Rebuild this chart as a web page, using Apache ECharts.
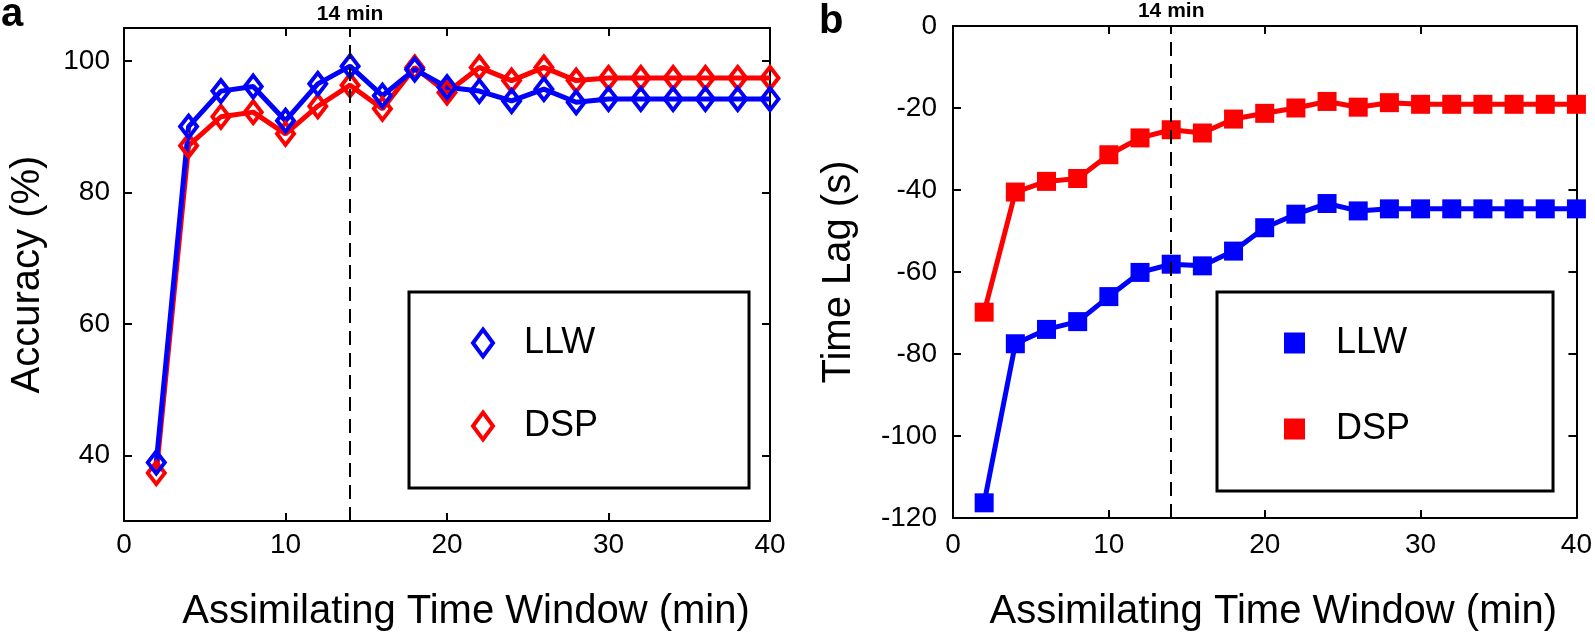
<!DOCTYPE html>
<html>
<head>
<meta charset="utf-8">
<script src="https://cdn.jsdelivr.net/npm/echarts@6/dist/echarts.min.js"></script>
<style>
  html, body { margin: 0; padding: 0; background: #fff; }
  #chart { width: 1595px; height: 637px; }
</style>
</head>
<body>
<div id="chart"></div>
<script>
// assimilating time window (min)
const windows = [2, 4, 6, 8, 10, 12, 14, 16, 18, 20, 22, 24, 26, 28, 30, 32, 34, 36, 38, 40];
// panel a: accuracy (%)
const accuracyLLW = [38.9, 90.0, 95.4, 96.1, 90.9, 96.5, 99.2, 94.7, 98.7, 96.0, 95.4, 93.9, 95.7, 93.7, 94.2, 94.2, 94.2, 94.2, 94.2, 94.2];
const accuracyDSP = [37.3, 87.1, 91.5, 92.2, 88.9, 93.1, 96.3, 92.7, 99.0, 95.2, 99.0, 97.0, 99.0, 97.0, 97.4, 97.4, 97.4, 97.4, 97.4, 97.4];
// panel b: time lag (s)
const lagLLW = [-116.3, -77.5, -74.0, -72.1, -66.0, -60.1, -58.1, -58.5, -54.9, -49.2, -45.9, -43.3, -45.1, -44.6, -44.6, -44.6, -44.6, -44.6, -44.6, -44.6];
const lagDSP = [-69.8, -40.5, -37.9, -37.2, -31.4, -27.3, -25.3, -26.1, -22.7, -21.3, -20.0, -18.4, -19.8, -18.7, -19.1, -19.1, -19.1, -19.1, -19.1, -19.1];

const xTicks = [0, 10, 20, 30, 40];
const accuracyTicks = [40, 60, 80, 100];
const lagTicks = [-120, -100, -80, -60, -40, -20, 0];
const markWindow = 14;
const markLabel = '14 min';

const BLUE = '#0000ff';
const RED = '#ff0000';
const FONT = '"Liberation Sans", Arial, Helvetica, sans-serif';

const chart = echarts.init(document.getElementById('chart'), null, { renderer: 'canvas' });

const pairs = (values) => windows.map((x, i) => [x, values[i]]);

const frameLine = { show: true, onZero: false, lineStyle: { color: '#000', width: 2 } };
const frameTick = { show: true, inside: true, length: 8, lineStyle: { color: '#000', width: 2 } };

const xAxisFor = (gridIndex, position, extra) => ({
  gridIndex,
  type: 'value',
  position,
  min: xTicks[0],
  max: xTicks[xTicks.length - 1],
  interval: xTicks[1] - xTicks[0],
  axisLine: frameLine,
  axisTick: frameTick,
  splitLine: { show: false },
  axisLabel: { show: false },
  ...extra
});

const yAxisFor = (gridIndex, position, min, max, ticks, extra) => ({
  gridIndex,
  type: 'value',
  position,
  min,
  max,
  axisLine: frameLine,
  axisTick: { ...frameTick, customValues: ticks },
  splitLine: { show: false },
  axisLabel: { show: false, customValues: ticks },
  ...extra
});

const tickLabel = (margin) => ({ show: true, color: '#000', fontSize: 28, fontFamily: FONT, margin });
const titleStyle = (padding) => ({ color: '#000', fontSize: 40, fontFamily: FONT, padding });

const marker = (label, distance) => ({
  silent: true,
  symbol: 'none',
  animation: false,
  lineStyle: { color: '#000', width: 2, type: [14, 8] },
  label: {
    show: true,
    position: 'end',
    distance,
    formatter: label,
    color: '#000',
    fontSize: 21,
    fontWeight: 'bold',
    fontFamily: FONT
  },
  data: [{ xAxis: markWindow }]
});

const diamondSeries = (name, values, color, markLine) => ({
  name,
  type: 'line',
  xAxisIndex: 0,
  yAxisIndex: 0,
  data: pairs(values),
  clip: false,
  symbol: 'diamond',
  symbolSize: [17, 22],
  lineStyle: { color, width: 5 },
  itemStyle: { color: 'rgba(0,0,0,0)', borderColor: color, borderWidth: 4 },
  markLine
});

const squareSeries = (name, values, color, markLine) => ({
  name,
  type: 'line',
  xAxisIndex: 2,
  yAxisIndex: 2,
  data: pairs(values),
  clip: false,
  symbol: 'rect',
  symbolSize: 19,
  lineStyle: { color, width: 5 },
  itemStyle: { color },
  markLine
});

const legendText = { color: '#000', fontSize: 36, lineHeight: 36, fontFamily: FONT, padding: [0, 0, 0, 26] };

chart.setOption({
  animation: false,
  backgroundColor: '#fff',
  textStyle: { fontFamily: FONT },
  grid: [
    { left: 124, top: 28, right: 825, bottom: 114 },
    { left: 953, top: 26, right: 17, bottom: 117 }
  ],
  xAxis: [
    xAxisFor(0, 'bottom', {
      axisLabel: tickLabel(10),
      name: 'Assimilating Time Window (min)',
      nameLocation: 'middle',
      nameGap: 71,
      nameTextStyle: titleStyle([0, 0, 0, 38])
    }),
    xAxisFor(0, 'top'),
    xAxisFor(1, 'bottom', {
      axisLabel: tickLabel(13),
      name: 'Assimilating Time Window (min)',
      nameLocation: 'middle',
      nameGap: 74,
      nameTextStyle: titleStyle([0, 0, 0, 17])
    }),
    xAxisFor(1, 'top')
  ],
  yAxis: [
    yAxisFor(0, 'left', 30, 105, accuracyTicks, {
      axisLabel: { ...tickLabel(14), customValues: accuracyTicks },
      name: 'Accuracy (%)',
      nameLocation: 'middle',
      nameGap: 76,
      nameTextStyle: titleStyle(0)
    }),
    yAxisFor(0, 'right', 30, 105, accuracyTicks),
    yAxisFor(1, 'left', lagTicks[0], lagTicks[lagTicks.length - 1], lagTicks, {
      axisLabel: { ...tickLabel(16), customValues: lagTicks },
      name: 'Time Lag (s)',
      nameLocation: 'middle',
      nameGap: 94,
      nameTextStyle: titleStyle(0)
    }),
    yAxisFor(1, 'right', lagTicks[0], lagTicks[lagTicks.length - 1], lagTicks)
  ],
  legend: [
    {
      left: 409,
      top: 292,
      orient: 'vertical',
      selectedMode: false,
      padding: [33, 151, 44, 62],
      itemGap: 47,
      itemWidth: 20,
      itemHeight: 27,
      borderColor: '#000',
      borderWidth: 3,
      textStyle: legendText,
      data: [
        { name: 'LLW', icon: 'diamond', itemStyle: { color: 'rgba(0,0,0,0)', borderColor: BLUE, borderWidth: 4 } },
        { name: 'DSP', icon: 'diamond', itemStyle: { color: 'rgba(0,0,0,0)', borderColor: RED, borderWidth: 4 } }
      ]
    },
    {
      left: 1217,
      top: 292,
      orient: 'vertical',
      selectedMode: false,
      padding: [33, 143, 44, 67],
      itemGap: 50,
      itemWidth: 21,
      itemHeight: 21,
      borderColor: '#000',
      borderWidth: 3,
      textStyle: legendText,
      data: [
        { name: 'LLW', icon: 'rect', itemStyle: { color: BLUE, borderWidth: 0 } },
        { name: 'DSP', icon: 'rect', itemStyle: { color: RED, borderWidth: 0 } }
      ]
    }
  ],
  graphic: [
    { type: 'text', left: 1, top: -5, style: { text: 'a', font: `bold 40px ${FONT}`, fill: '#000' } },
    { type: 'text', left: 819, top: 2, style: { text: 'b', font: `bold 40px ${FONT}`, fill: '#000' } }
  ],
  series: [
    diamondSeries('DSP', accuracyDSP, RED, marker(markLabel, 3)),
    diamondSeries('LLW', accuracyLLW, BLUE),
    squareSeries('DSP', lagDSP, RED, marker(markLabel, 4)),
    squareSeries('LLW', lagLLW, BLUE)
  ]
});
</script>
</body>
</html>
